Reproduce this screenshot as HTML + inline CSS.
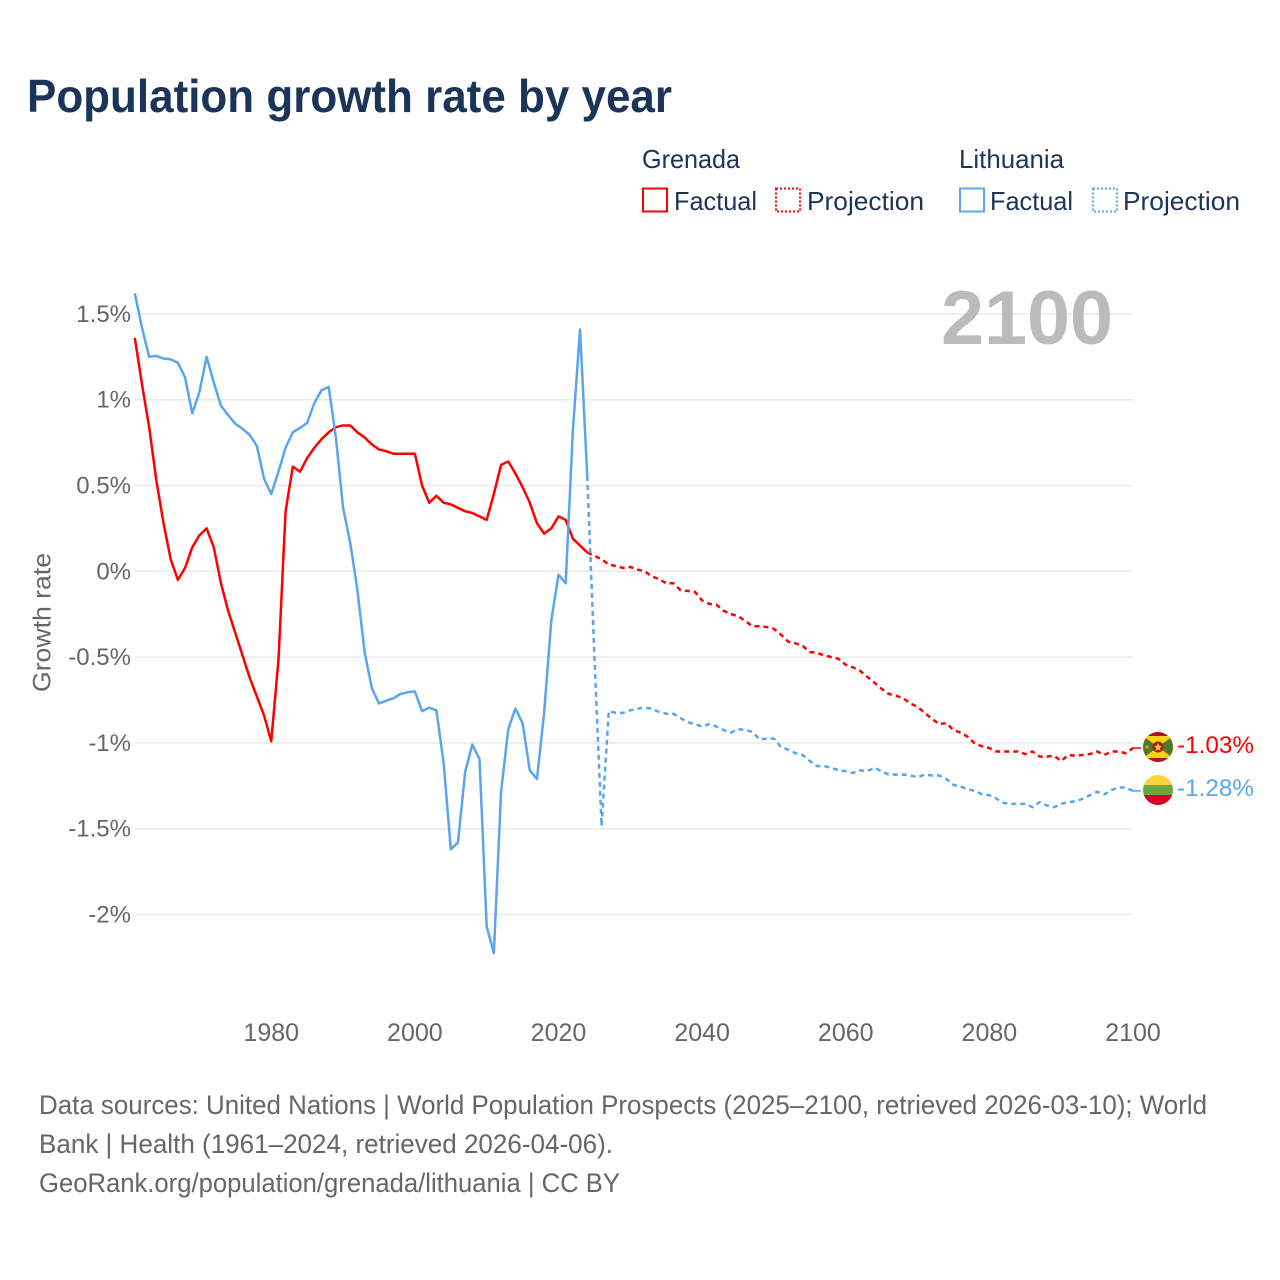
<!DOCTYPE html>
<html lang="en">
<head>
<meta charset="utf-8">
<title>Population growth rate by year</title>
<style>
  html, body { margin: 0; padding: 0; background: #fff; }
  svg { display: block; font-family: "Liberation Sans", sans-serif; }
</style>
</head>
<body>
<svg id="chart" width="1280" height="1280" viewBox="0 0 1280 1280" xmlns="http://www.w3.org/2000/svg">
  <rect x="0" y="0" width="1280" height="1280" fill="#ffffff"/>
  <text x="27" y="112" font-size="46" font-weight="700" fill="#1a3557" textLength="645" lengthAdjust="spacingAndGlyphs">Population growth rate by year</text>

  <g font-size="26" fill="#1c3556">
    <text x="642" y="168" textLength="98" lengthAdjust="spacingAndGlyphs">Grenada</text>
    <rect x="643" y="188.5" width="24" height="23" fill="none" stroke="#ff0000" stroke-width="2"/>
    <text x="674" y="210" textLength="83" lengthAdjust="spacingAndGlyphs">Factual</text>
    <rect x="776" y="188.5" width="24" height="23" fill="none" stroke="#ff0000" stroke-width="2" stroke-dasharray="2 2"/>
    <text x="807" y="210" textLength="117" lengthAdjust="spacingAndGlyphs">Projection</text>
    <text x="959" y="168" textLength="105" lengthAdjust="spacingAndGlyphs">Lithuania</text>
    <rect x="960" y="188.5" width="24" height="23" fill="none" stroke="#5aa5ee" stroke-width="2"/>
    <text x="990" y="210" textLength="83" lengthAdjust="spacingAndGlyphs">Factual</text>
    <rect x="1093" y="188.5" width="24" height="23" fill="none" stroke="#5aa5ee" stroke-width="2" stroke-dasharray="2 2"/>
    <text x="1123" y="210" textLength="117" lengthAdjust="spacingAndGlyphs">Projection</text>
  </g>

  <g id="grid"></g>
  <g id="y-ticks"></g>
  <g id="x-ticks"></g>

  <text transform="translate(50.5,622.5) rotate(-90)" text-anchor="middle" font-size="25" fill="#666666" textLength="139" lengthAdjust="spacingAndGlyphs">Growth rate</text>
  <text x="941" y="344" font-size="76" font-weight="700" fill="#bbbbbb" textLength="172" lengthAdjust="spacingAndGlyphs">2100</text>

  <g id="series"></g>

  <defs>
    <clipPath id="flag-clip-grenada"><circle cx="1158" cy="747" r="15"/></clipPath>
    <clipPath id="flag-clip-lithuania"><circle cx="1158" cy="790" r="15"/></clipPath>
  </defs>
  <g clip-path="url(#flag-clip-grenada)">
    <rect x="1143" y="732" width="30" height="30" fill="#ad1519"/>
    <rect x="1143" y="736" width="30" height="22" fill="#fcd116"/>
    <polygon points="1143,736 1158,747 1143,758" fill="#4f7a2c"/>
    <polygon points="1173,736 1158,747 1173,758" fill="#4f7a2c"/>
    <circle cx="1158" cy="747" r="5.5" fill="#ad1519"/>
    <polygon points="1158,743 1159.2,745.8 1162,746 1159.8,748 1160.5,751 1158,749.4 1155.5,751 1156.2,748 1154,746 1156.8,745.8" fill="#fcd116"/>
    <circle cx="1147" cy="747" r="1.6" fill="#e0a020"/>
  </g>
  <g clip-path="url(#flag-clip-lithuania)">
    <rect x="1143" y="775" width="30" height="10" fill="#fcd43a"/>
    <rect x="1143" y="785" width="30" height="10" fill="#6da544"/>
    <rect x="1143" y="795" width="30" height="10" fill="#d80027"/>
  </g>

  <g font-size="27" fill="#666666">
    <text x="39" y="1114" textLength="1168" lengthAdjust="spacingAndGlyphs">Data sources: United Nations | World Population Prospects (2025–2100, retrieved 2026-03-10); World</text>
    <text x="39" y="1153" textLength="574" lengthAdjust="spacingAndGlyphs">Bank | Health (1961–2024, retrieved 2026-04-06).</text>
    <text x="39" y="1192" textLength="581" lengthAdjust="spacingAndGlyphs">GeoRank.org/population/grenada/lithuania | CC BY</text>
  </g>
  <g id="end-labels"></g>
</svg>

<script>
const factualStartYear = 1961;
const projectionStartYear = 2024;

const xTicks = [1980, 2000, 2020, 2040, 2060, 2080, 2100];
const yTicks = [1.5, 1, 0.5, 0, -0.5, -1, -1.5, -2];
const yTickLabels = ["1.5%", "1%", "0.5%", "0%", "-0.5%", "-1%", "-1.5%", "-2%"];

const grenadaFactual = [
  1.36, 1.09, 0.84, 0.53, 0.28, 0.07, -0.05, 0.02, 0.14, 0.21,
  0.25, 0.14, -0.07, -0.23, -0.36, -0.49, -0.62, -0.73, -0.84, -0.99,
  -0.52, 0.35, 0.61, 0.58, 0.66, 0.72, 0.77, 0.81, 0.84, 0.85,
  0.85, 0.81, 0.78, 0.74, 0.71, 0.70, 0.685, 0.685, 0.685, 0.685,
  0.50, 0.40, 0.44, 0.40, 0.39, 0.37, 0.35, 0.34, 0.32, 0.30,
  0.45, 0.62, 0.64, 0.57, 0.49, 0.40, 0.28, 0.22, 0.25, 0.32,
  0.30, 0.19, 0.15, 0.11
];
const grenadaProjection = [
  0.11, 0.09, 0.07, 0.04, 0.03, 0.02, 0.025,
  0.01, 0, -0.03, -0.045, -0.07, -0.07, -0.11, -0.115, -0.12, -0.17,
  -0.19, -0.195, -0.23, -0.25, -0.26, -0.29, -0.32, -0.32, -0.325, -0.335,
  -0.37, -0.41, -0.42, -0.435, -0.47, -0.475, -0.49, -0.50, -0.51, -0.545,
  -0.56, -0.58, -0.615, -0.65, -0.685, -0.715, -0.725, -0.74, -0.77, -0.79,
  -0.825, -0.86, -0.89, -0.885, -0.925, -0.94, -0.965, -1.005, -1.02, -1.03,
  -1.05, -1.05, -1.05, -1.05, -1.065, -1.05, -1.08, -1.08, -1.075, -1.105,
  -1.07, -1.075, -1.07, -1.065, -1.05, -1.07, -1.05, -1.05, -1.06, -1.03
];
const lithuaniaFactual = [
  1.62, 1.42, 1.25, 1.255, 1.24, 1.235, 1.215, 1.13, 0.92, 1.045,
  1.25, 1.10, 0.965, 0.91, 0.86, 0.83, 0.795, 0.73, 0.54, 0.45,
  0.58, 0.72, 0.81, 0.835, 0.865, 0.98, 1.055, 1.075, 0.78, 0.37,
  0.165, -0.11, -0.47, -0.68, -0.77, -0.755, -0.74, -0.715, -0.705, -0.70,
  -0.815, -0.795, -0.81, -1.115, -1.62, -1.58, -1.17, -1.01, -1.095, -2.07,
  -2.225, -1.285, -0.92, -0.80, -0.885, -1.16, -1.21, -0.825, -0.285, -0.02,
  -0.07, 0.82, 1.41, 0.555
];
const lithuaniaProjection = [
  0.555, -0.49, -1.485, -0.815, -0.825, -0.825, -0.81,
  -0.80, -0.795, -0.80, -0.82, -0.83, -0.83, -0.855, -0.88, -0.89, -0.905,
  -0.89, -0.905, -0.925, -0.94, -0.92, -0.925, -0.935, -0.98, -0.975, -0.975,
  -1.025, -1.04, -1.06, -1.07, -1.105, -1.135, -1.135, -1.145, -1.16, -1.165,
  -1.175, -1.16, -1.165, -1.145, -1.165, -1.185, -1.185, -1.185, -1.19, -1.2,
  -1.185, -1.19, -1.19, -1.21, -1.245, -1.255, -1.27, -1.28, -1.30, -1.305,
  -1.325, -1.35, -1.355, -1.355, -1.355, -1.375, -1.345, -1.365, -1.375, -1.355,
  -1.345, -1.34, -1.325, -1.305, -1.285, -1.30, -1.275, -1.26, -1.26, -1.28
];

const SVG_NS = "http://www.w3.org/2000/svg";
const RED = "#ff0000";
const BLUE = "#5aa5ee";
const xAxis = function (year) { return 134.8 + (year - 1961) * (1133 - 134.8) / 139; };
const yAxis = function (value) { return 571.3 - value * 171.6; };

function pathFrom(startYear, values) {
  return values.map(function (v, i) {
    return (i === 0 ? "M" : "L") + xAxis(startYear + i).toFixed(2) + " " + yAxis(v).toFixed(2);
  }).join(" ");
}

const gridGroup = document.getElementById("grid");
const yTickGroup = document.getElementById("y-ticks");
yTicks.forEach(function (tick, i) {
  const line = document.createElementNS(SVG_NS, "line");
  
  
  line.setAttribute("x1", xAxis(1961));
  line.setAttribute("x2", xAxis(2100));
  line.setAttribute("y1", yAxis(tick));
  line.setAttribute("y2", yAxis(tick));
  line.setAttribute("stroke", "#e9e9e9");
  line.setAttribute("stroke-width", "1.5");
  gridGroup.appendChild(line);

  const label = document.createElementNS(SVG_NS, "text");
  
  
  label.setAttribute("x", 131);
  label.setAttribute("y", yAxis(tick) + 8);
  label.setAttribute("text-anchor", "end");
  label.setAttribute("font-size", "24");
  label.setAttribute("fill", "#666666");
  label.textContent = yTickLabels[i];
  yTickGroup.appendChild(label);
});

const xTickGroup = document.getElementById("x-ticks");
xTicks.forEach(function (year) {
  const label = document.createElementNS(SVG_NS, "text");
  
  
  label.setAttribute("x", xAxis(year));
  label.setAttribute("y", 1041);
  label.setAttribute("text-anchor", "middle");
  label.setAttribute("font-size", "25");
  label.setAttribute("fill", "#666666");
  label.textContent = String(year);
  xTickGroup.appendChild(label);
});

const seriesGroup = document.getElementById("series");
function addLine(name, startYear, values, color, dashed) {
  const path = document.createElementNS(SVG_NS, "path");
  
  
  path.setAttribute("d", pathFrom(startYear, values));
  path.setAttribute("fill", "none");
  path.setAttribute("stroke", color);
  path.setAttribute("stroke-width", "2.5");
  path.setAttribute("stroke-linejoin", "round");
  if (dashed) path.setAttribute("stroke-dasharray", "5 4");
  seriesGroup.appendChild(path);
}
addLine("grenada-factual-line", factualStartYear, grenadaFactual, RED, false);
addLine("grenada-projection-line", projectionStartYear, grenadaProjection, RED, true);
addLine("lithuania-factual-line", factualStartYear, lithuaniaFactual, BLUE, false);
addLine("lithuania-projection-line", projectionStartYear, lithuaniaProjection, BLUE, true);

const endGroup = document.getElementById("end-labels");
function addEnd(values, color, nameLine, nameText, flagLabelY) {
  const last = values[values.length - 1];
  const conn = document.createElementNS(SVG_NS, "line");
  
  
  conn.setAttribute("x1", xAxis(2100));
  conn.setAttribute("x2", xAxis(2100) + 8);
  conn.setAttribute("y1", yAxis(last));
  conn.setAttribute("y2", yAxis(last));
  conn.setAttribute("stroke", color);
  conn.setAttribute("stroke-width", "1.5");
  endGroup.appendChild(conn);

  const label = document.createElementNS(SVG_NS, "text");
  
  
  label.setAttribute("x", 1177);
  label.setAttribute("y", flagLabelY);
  label.setAttribute("font-size", "24.5");
  label.setAttribute("fill", color);
  label.setAttribute("textLength", "77");
  label.setAttribute("lengthAdjust", "spacingAndGlyphs");
  label.textContent = last.toFixed(2) + "%";
  endGroup.appendChild(label);
}
addEnd(grenadaProjection, RED, "grenada-end-connector", "grenada-end-value", 753);
addEnd(lithuaniaProjection, BLUE, "lithuania-end-connector", "lithuania-end-value", 796);
</script>
</body>
</html>
